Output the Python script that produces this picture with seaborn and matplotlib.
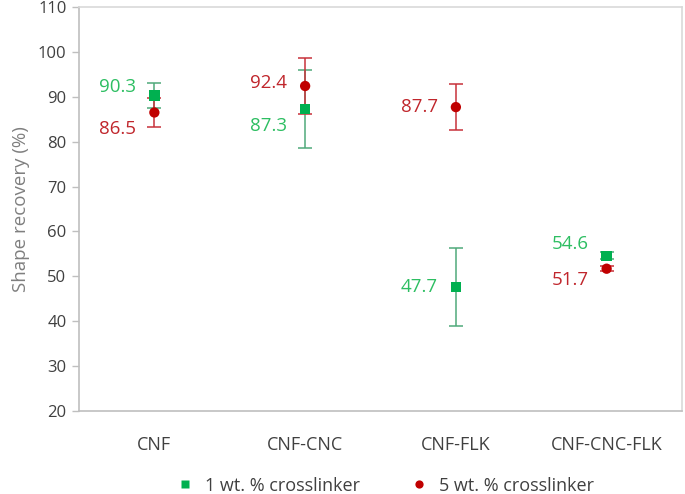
import matplotlib
matplotlib.use("Agg")
import matplotlib.pyplot as plt
import numpy as np
import pandas as pd
import seaborn as sns

# %%
samples = ["CNF", "CNF-CNC", "CNF-FLK", "CNF-CNC-FLK"]
recovery_1wt = [90.3, 87.3, 47.7, 54.6]
err_1wt = [2.8, 8.7, 8.7, 0.8]
recovery_5wt = [86.5, 92.4, 87.7, 51.7]
err_5wt = [3.2, 6.2, 5.1, 0.5]
series = ["1 wt. % crosslinker", "5 wt. % crosslinker"]

df = pd.DataFrame(
    {
        "Sample": samples * 2,
        "Recovery": recovery_1wt + recovery_5wt,
        "Err": err_1wt + err_5wt,
        "Series": [series[0]] * 4 + [series[1]] * 4,
    }
)

# %%
sns.set_theme(style="white")
plt.rcParams["font.family"] = ["Open Sans", "DejaVu Sans"]

marker_col = {series[0]: "#00B050", series[1]: "#C00000"}
bar_col = {series[0]: "#4FA97A", series[1]: "#C8323A"}
text_col = {series[0]: "#2DBE62", series[1]: "#C0262C"}
# vertical label offsets (px) per sample, per series
label_dy = {
    series[0]: [-8, 17, 0, -12],
    series[1]: [17, -3, 0, 11],
}

fig = plt.figure(figsize=(6.85, 4.94), dpi=100)
ax = fig.add_axes([79 / 685, 83 / 494, 603 / 685, 404 / 494])

for name, group in df.groupby("Series"):
    xs = np.arange(len(group))
    ax.errorbar(
        xs,
        group.Recovery,
        yerr=group.Err,
        fmt="none",
        ecolor=bar_col[name],
        elinewidth=1.1,
        capsize=5,
        capthick=1.1,
        zorder=2,
    )

sns.scatterplot(
    data=df,
    x="Sample",
    y="Recovery",
    hue="Series",
    style="Series",
    markers={series[0]: "s", series[1]: "o"},
    palette=marker_col,
    s=55,
    edgecolor="none",
    ax=ax,
    zorder=3,
)

for name, group in df.groupby("Series"):
    for i, (val, dy) in enumerate(zip(group.Recovery, label_dy[name])):
        ax.annotate(
            f"{val:.1f}",
            (i, val),
            xytext=(-18 * 0.72, -dy * 0.72),
            textcoords="offset points",
            ha="right",
            va="center",
            fontsize=13.5,
            color=text_col[name],
        )

ax.set_xlim(-0.5, 3.5)
ax.set_ylim(20, 110)
ax.set_yticks(np.arange(20, 111, 10))
ax.set_xlabel("")
ax.set_ylabel("Shape recovery (%)", fontsize=13.5, color="#7F7F7F", labelpad=6)
ax.tick_params(axis="y", which="both", left=True, length=5, width=1, color="#BFBFBF",
               labelsize=12, labelcolor="#404040", pad=4)
ax.tick_params(axis="x", bottom=False, labelsize=13, labelcolor="#404040", pad=12)

for side in ["left", "bottom"]:
    ax.spines[side].set_color("#BFBFBF")
    ax.spines[side].set_linewidth(1.2)
for side in ["top", "right"]:
    ax.spines[side].set_color("#D9D9D9")
    ax.spines[side].set_linewidth(1.2)

handles, labels = ax.get_legend_handles_labels()
ax.legend(
    handles,
    labels,
    loc="center",
    bbox_to_anchor=(0.5, -0.185),
    ncol=2,
    frameon=False,
    fontsize=13,
    markerscale=0.8,
    handletextpad=0.1,
    columnspacing=2.3,
    labelcolor="#404040",
)

fig.savefig("out.png", dpi=100)
